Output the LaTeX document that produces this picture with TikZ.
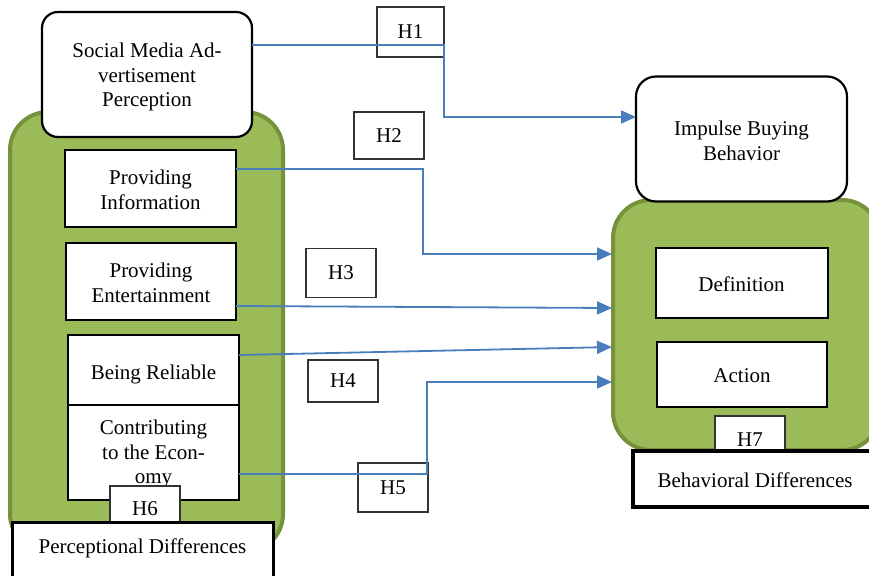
\documentclass[tikz,border=0pt]{standalone}
\usepackage{fontspec}
\setmainfont{Liberation Serif}
\usetikzlibrary{arrows.meta}
\definecolor{gfill}{HTML}{9BBB59}
\definecolor{gline}{HTML}{76923C}
\definecolor{conncol}{HTML}{4A7EBB}
\tikzset{
  txt/.style={font=\fontsize{21}{24.5}\selectfont, align=center, inner sep=0pt},
  box/.style={draw=black, fill=white, line width=2pt, inner sep=0pt, outer sep=0pt,
    font=\fontsize{21}{24.5}\selectfont, align=center},
  rbox/.style={box, rounded corners=16pt, line width=2.2pt},
  hbox/.style={draw=black!80, fill=white, line width=1.1pt, inner sep=0pt, outer sep=0pt,
    font=\fontsize{21}{24.5}\selectfont, minimum width=70pt},
  group/.style={draw=gline, fill=gfill, line width=4pt, rounded corners=38pt, inner sep=0pt, outer sep=0pt},
  tag/.style={box, line width=3.5pt},
  conn/.style={draw=conncol, line width=1.8pt, -{Triangle[length=15pt,width=13pt]}}
}
\begin{document}
\begin{tikzpicture}[x=1pt,y=-1pt]
\useasboundingbox (0,0) rectangle (869,575);
% containers
\node[group, minimum width=273pt, minimum height=440pt] (lgreen) at (146.5,332) {};
\node[group, minimum width=267pt, minimum height=250pt] (rgreen) at (746.5,325) {};
% top boxes
\node[rbox, minimum width=210pt, minimum height=125pt] (smap) at (147,74.5) {};
\node[txt] (smaptxt) at (147,77) {Social Media Ad-\\vertisement\\Perception};
\node[rbox, rounded corners=20pt, minimum width=211pt, minimum height=125pt] (imp) at (741.5,139) {};
\node[txt] (imptxt) at (741.5,141) {Impulse Buying\\Behavior};
% left items
\node[box, minimum width=171pt, minimum height=77pt] (pinfo) at (150.5,188.5) {};
\node[txt] (pinfotxt) at (150.5,190) {Providing\\Information};
\node[box, minimum width=170pt, minimum height=77pt] (pent) at (151,281.5) {};
\node[txt] (penttxt) at (151,283) {Providing\\Entertainment};
\node[box, minimum width=171pt, minimum height=70pt] (prel) at (153.5,370) {};
\node[txt] (preltxt) at (153.5,374) {Being Reliable};
\node[box, minimum width=171pt, minimum height=95pt] (contrib) at (153.5,452) {};
\node[txt, anchor=north] (contribtxt) at (153.5,420) {Contributing\\to the Econ-\\omy};
\node[hbox, minimum height=46pt] (h6) at (145,509) {H6};
\node[tag, line width=3pt, minimum width=261pt, minimum height=60pt] (perc) at (142.5,552) {};
\node[txt] (perctxt) at (142.5,548) {Perceptional Differences};
% right items
\node[box, minimum width=172pt, minimum height=70pt] (defn) at (741.5,283) {};
\node[txt] (defntxt) at (741.5,284.5) {Definition};
\node[box, minimum width=170pt, minimum height=65pt] (act) at (742,374.5) {};
\node[txt] (acttxt) at (742,376) {Action};
\node[hbox, minimum height=48pt] (h7) at (750,440) {H7};
\node[tag, minimum width=244pt, minimum height=56pt] (beh) at (755,479) {};
\node[txt] (behtxt) at (755,480) {Behavioral Differences};
% hypothesis labels
\node[hbox, minimum width=67pt, minimum height=50pt] (h1) at (410.5,32) {H1};
\node[hbox, minimum height=47pt] (h2) at (389,135.5) {H2};
\node[hbox, minimum height=49pt] (h3) at (341,273) {H3};
\node[hbox, minimum height=42pt] (h4) at (343,381) {H4};
\node[hbox, minimum height=49pt] (h5) at (393,487.5) {H5};
% arrow ends
\coordinate (c1) at ([yshift=22pt]imp.west);
\coordinate (e2) at (612,254);
\coordinate (e3) at (612,308);
\coordinate (e4) at (612,347);
\coordinate (e5) at (612,382);
% connectors
\draw[conn] ([yshift=29.5pt]smap.east) -| (h1.east |- c1) -- (c1);
\draw[conn] ([yshift=19.5pt]pinfo.east) -| ([xshift=-1pt]h2.east |- e2) -- (e2);
\draw[conn] ([yshift=-24.5pt]pent.east) -- (e3);
\draw[conn] ([yshift=15pt]prel.east) -- (e4);
\draw[conn] ([yshift=-22pt]contrib.east) -| ([xshift=-1pt]h5.east |- e5) -- (e5);
\end{tikzpicture}
\end{document}
